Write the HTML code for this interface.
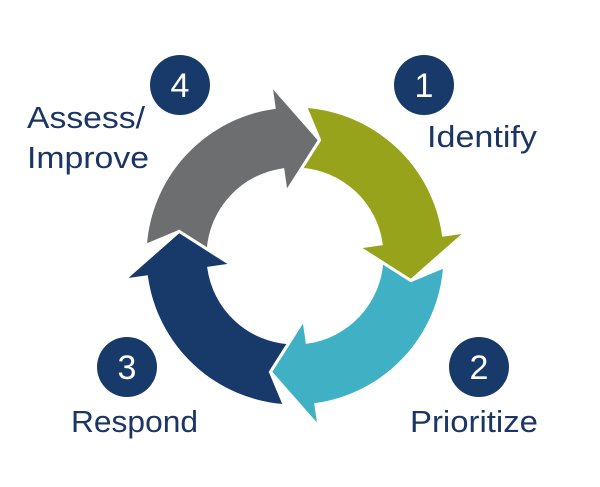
<!DOCTYPE html>
<html><head><meta charset="utf-8"><style>
html,body{margin:0;padding:0;background:#fff;}
svg{display:block}
text{font-family:"Liberation Sans",sans-serif;}
</style></head><body>
<svg id="s" width="600" height="487" viewBox="0 0 600 487" xmlns="http://www.w3.org/2000/svg">
<g id="arrows"></g>
<circle cx="180" cy="85" r="30" fill="#173a6b"/>
<text x="180" y="97" font-size="34" fill="#fff" text-anchor="middle">4</text>
<circle cx="424" cy="85" r="30" fill="#173a6b"/>
<text x="424" y="97" font-size="34" fill="#fff" text-anchor="middle">1</text>
<circle cx="127" cy="367" r="30" fill="#173a6b"/>
<text x="127" y="379" font-size="34" fill="#fff" text-anchor="middle">3</text>
<circle cx="479" cy="367" r="30" fill="#173a6b"/>
<text x="479" y="379" font-size="34" fill="#fff" text-anchor="middle">2</text>
<g fill="#1b3564" font-size="31">
<text x="27" y="128" textLength="118" lengthAdjust="spacingAndGlyphs">Assess/</text>
<text x="27" y="168" textLength="122" lengthAdjust="spacingAndGlyphs">Improve</text>
<text x="427" y="147" textLength="110" lengthAdjust="spacingAndGlyphs">Identify</text>
<text x="71" y="432" textLength="127" lengthAdjust="spacingAndGlyphs">Respond</text>
<text x="410" y="432" textLength="128" lengthAdjust="spacingAndGlyphs">Prioritize</text>
</g>
</svg>
<script>
(function(){
var cx=295,cy=256,ri=87,ro=150,rm=118.5,hi=64,ho=173;
function P(r,a){a=a*Math.PI/180;return (cx+r*Math.sin(a)).toFixed(1)+","+(cy-r*Math.cos(a)).toFixed(1);}
var cols=["#6d6e70","#97a31a","#40b1c4","#173a6b"];
var g=document.getElementById("arrows"),h="";
for(var i=0;i<4;i++){
 var b=-8+90*i, t=b+20, s=-86+90*i, ap=-78+90*i;
 var d="M"+P(ro,s)+" A"+ro+","+ro+" 0 0 1 "+P(ro,b)+" L"+P(ho,b)+" L"+P(rm,t)+" L"+P(hi,b)+" L"+P(ri,b)+
   " A"+ri+","+ri+" 0 0 0 "+P(ri,s)+" L"+P(rm,ap)+" Z";
 h+='<path d="'+d+'" fill="'+cols[i]+'" stroke="#fff" stroke-width="3" stroke-linejoin="miter"/>';
}
g.innerHTML=h;
})();
</script>
</body></html>
